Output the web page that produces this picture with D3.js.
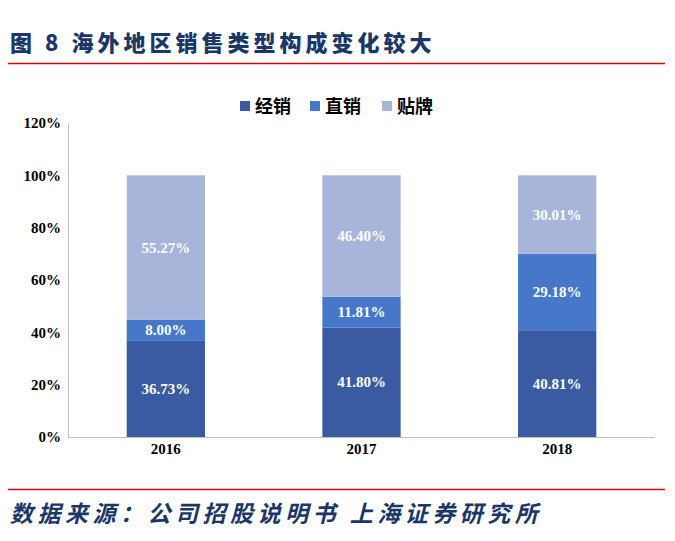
<!DOCTYPE html><html><head><meta charset="utf-8"><script src="https://cdn.jsdelivr.net/npm/d3@7"></script>
<style>body{margin:0;background:#fff}</style></head><body><svg id="c" width="675" height="541"></svg>
<script>
const years=["2016","2017","2018"];
const series=["经销","直销","贴牌"];
const jingxiao=[36.73,41.80,40.81];
const zhixiao=[8.00,11.81,29.18];
const tiepai=[55.27,46.40,30.01];
const yTicks=[0,20,40,60,80,100,120];
const colors=["#3a5ba2","#4677c8","#a8b5db"];
const svg=d3.select("#c");
const navy="#1b3768";
svg.append("text").attr("x",10).attr("y",51).attr("fill",navy).attr("font-family","Noto Sans CJK SC").attr("font-weight","900").attr("font-size",22).attr("letter-spacing",4).text("图 8 海外地区销售类型构成变化较大");
svg.append("line").attr("x1",8).attr("x2",665).attr("y1",63.5).attr("y2",63.5).attr("stroke","#e00000").attr("stroke-width",1.5);
svg.append("line").attr("x1",8).attr("x2",665).attr("y1",489.5).attr("y2",489.5).attr("stroke","#e00000").attr("stroke-width",1.5);
svg.append("text").attr("x",10).attr("y",522).attr("fill",navy).attr("font-family","Noto Sans CJK SC").attr("font-weight","bold").attr("font-style","italic").attr("font-size",23).attr("letter-spacing",4.5).text("数据来源：公司招股说明书  上海证券研究所");
const x=d3.scaleBand().domain(years).range([68,655]).paddingInner(0.6).paddingOuter(0.3);
const y=d3.scaleLinear().domain([0,120]).range([437,123]);
const g=svg.append("g");
const ax=g.append("g").attr("transform","translate(68,0)").call(d3.axisLeft(y).tickValues(yTicks).tickSize(0).tickFormat(d=>d+"%"));
ax.select(".domain").attr("stroke","#bfbfbf");
ax.selectAll("text").attr("font-family","Liberation Serif").attr("font-weight","bold").attr("font-size",15).attr("fill","#000").attr("dx",-4);
const bx=g.append("g").attr("transform","translate(0,437)").call(d3.axisBottom(x).tickSize(0));
bx.select(".domain").attr("stroke","#bfbfbf").attr("d","M68,0.5H655");
bx.selectAll("text").attr("font-family","Liberation Serif").attr("font-weight","bold").attr("font-size",15).attr("fill","#000").attr("dy",14);
const data=years.map((yr,i)=>({yr,vals:[jingxiao[i],zhixiao[i],tiepai[i]]}));
data.forEach(d=>{let acc=0;d.vals.forEach((v,k)=>{const y0=acc,y1=acc+v;acc=y1;
 g.append("rect").attr("x",x(d.yr)).attr("width",x.bandwidth()).attr("y",y(y1)).attr("height",y(y0)-y(y1)).attr("fill",colors[k]);
 g.append("text").attr("x",x(d.yr)+x.bandwidth()/2).attr("y",y((y0+y1)/2)+5).attr("text-anchor","middle").attr("fill","#fff").attr("font-family","Liberation Serif").attr("font-weight","bold").attr("font-size",15).text(v.toFixed(2)+"%");
});});
const lg=svg.append("g");
const lx=[240,310,382];
series.forEach((s,k)=>{lg.append("rect").attr("x",lx[k]).attr("y",101).attr("width",10).attr("height",10).attr("fill",colors[k]);
lg.append("text").attr("x",lx[k]+15).attr("y",113).attr("font-family","Noto Sans CJK SC").attr("font-weight","bold").attr("font-size",18).attr("fill","#000").text(s);});
</script></body></html>
